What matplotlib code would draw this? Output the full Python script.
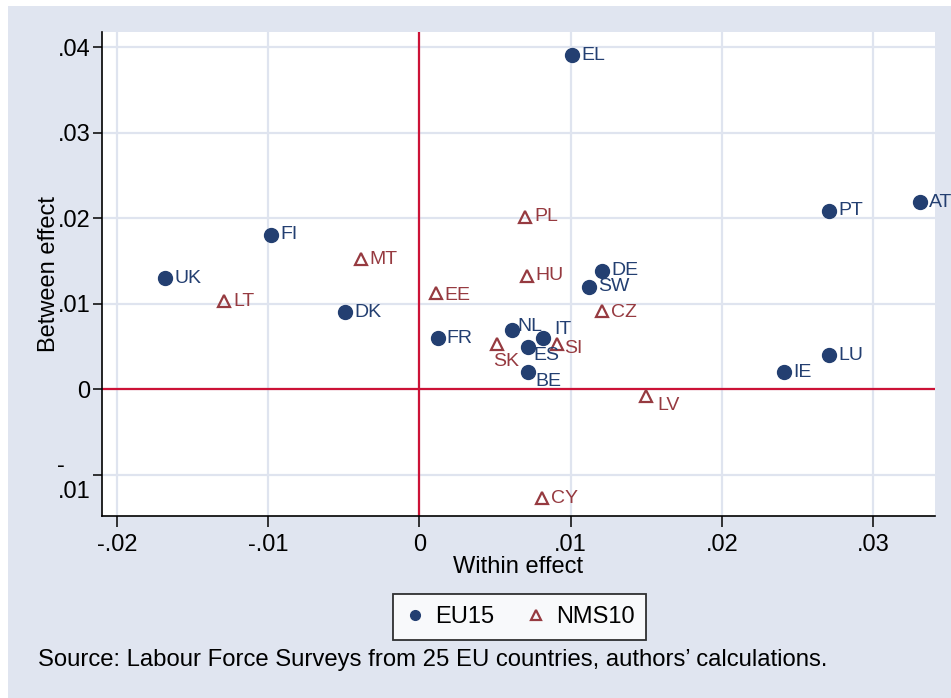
import matplotlib
matplotlib.use("Agg")
import matplotlib.pyplot as plt
from matplotlib.patches import Rectangle
from matplotlib.lines import Line2D

plt.rcParams['font.family'] = ['Liberation Sans', 'DejaVu Sans']

# EU15 countries: within effect, between effect
eu_names = ['EL', 'AT', 'PT', 'FI', 'UK', 'DK', 'DE', 'SW', 'FR', 'NL',
            'IT', 'ES', 'BE', 'LU', 'IE']
eu_within = [0.0101, 0.0331, 0.0271, -0.0098, -0.0168, -0.0049, 0.0121, 0.0112,
             0.0012, 0.0061, 0.0082, 0.0072, 0.0072, 0.0271, 0.0241]
eu_between = [0.0391, 0.0219, 0.0209, 0.0181, 0.0130, 0.0090, 0.0139, 0.0120,
              0.0060, 0.0070, 0.0060, 0.0050, 0.0020, 0.0040, 0.0020]

# NMS10 countries
nms_names = ['PL', 'MT', 'HU', 'EE', 'LT', 'CZ', 'SK', 'SI', 'LV', 'CY']
nms_within = [0.0070, -0.0039, 0.0071, 0.0011, -0.0129, 0.0121, 0.0051, 0.0091,
              0.0150, 0.0081]
nms_between = [0.0202, 0.0152, 0.0133, 0.0113, 0.0103, 0.0092, 0.0053, 0.0053,
               -0.0008, -0.0127]

xticks = [-0.02, -0.01, 0, 0.01, 0.02, 0.03]
xlabels = ['-.02', '-.01', '0', '.01', '.02', '.03']
yticks = [-0.01, 0, 0.01, 0.02, 0.03, 0.04]
ylabels = ['-\n.01', '0', '.01', '.02', '.03', '.04']

navy = '#233f71'
maroon = '#963a40'
red = '#cc1236'
bg = '#e0e5f0'
gridc = '#dfe4ef'

# label offsets in pixels (dx, dy) where the default is to the right
offsets = {'ES': (5, -9), 'BE': (7, -9), 'SK': (-3, -17), 'IT': (11, 9),
           'NL': (6, 3), 'SI': (7, -4), 'LV': (11, -9), 'EE': (8, -3),
           'CZ': (9, -2)}

fs = 17

fig = plt.figure(figsize=(9.51, 6.98), dpi=100)
fig.patch.set_facecolor('white')
fig.patches.append(Rectangle((8 / 951, 0), 1, 1 - 6 / 698, transform=fig.transFigure,
                             facecolor=bg, edgecolor='none', zorder=-10))

ax = fig.add_axes([102 / 951, 1 - 516 / 698, (935 - 102) / 951, (516 - 32) / 698])
ax.set_facecolor('white')
ax.set_xlim(-0.021, 0.0341)
ax.set_ylim(-0.0148, 0.0418)

for t in xticks:
    ax.axvline(t, color=gridc, lw=1.6, zorder=0)
for t in yticks:
    ax.axhline(t, color=gridc, lw=1.6, zorder=0)
ax.axvline(0, color=red, lw=1.6, zorder=1)
ax.axhline(0, color=red, lw=1.6, zorder=1)

ax.plot(eu_within, eu_between, 'o', color=navy, ms=10, zorder=3, label='EU15')
ax.plot(nms_within, nms_between, '^', mfc='none', mec=maroon, mew=1.6, ms=9,
        zorder=3, label='NMS10')

for names, xs, ys, col in [(eu_names, eu_within, eu_between, navy),
                           (nms_names, nms_within, nms_between, maroon)]:
    for n, x, y in zip(names, xs, ys):
        dx, dy = offsets.get(n, (9, 0))
        ax.annotate(n, (x, y), xytext=(dx, dy), textcoords='offset pixels',
                    ha='left', va='center', fontsize=14, color=col, zorder=4)

ax.set_xticks(xticks)
ax.set_xticklabels(xlabels)
ax.set_yticks(yticks)
ax.set_yticklabels(ylabels, multialignment='left')
ax.tick_params(direction='out', width=1.1, labelsize=fs, colors='black')
ax.tick_params(axis='x', length=8, pad=5)
ax.tick_params(axis='y', length=6.5, pad=2)
for s in ['top', 'right']:
    ax.spines[s].set_visible(False)
for s in ['left', 'bottom']:
    ax.spines[s].set_linewidth(1.2)

ax.set_xlabel('Within effect', fontsize=fs, labelpad=0)
ax.set_ylabel('Between effect', fontsize=fs, labelpad=-2)

handles = [Line2D([], [], marker='o', ls='none', color=navy, ms=7),
           Line2D([], [], marker='^', ls='none', mfc='none', mec=maroon, mew=1.6, ms=7)]
leg = fig.legend(handles, ['EU15', 'NMS10'], loc='center', ncol=2,
                 bbox_to_anchor=(519.5 / 951, 1 - 617 / 698), fontsize=fs,
                 frameon=True, fancybox=False, edgecolor='black', handletextpad=0.4,
                 columnspacing=1.3, handlelength=0.9, borderpad=0.5,
                 borderaxespad=0)
leg.get_frame().set_linewidth(1.3)

fig.text(38 / 951, 1 - 660 / 698,
         "Source: Labour Force Surveys from 25 EU countries, authors\u2019 calculations.",
         fontsize=17.2, ha='left', va='center')

fig.savefig('out.png', dpi=100, facecolor=fig.get_facecolor())
